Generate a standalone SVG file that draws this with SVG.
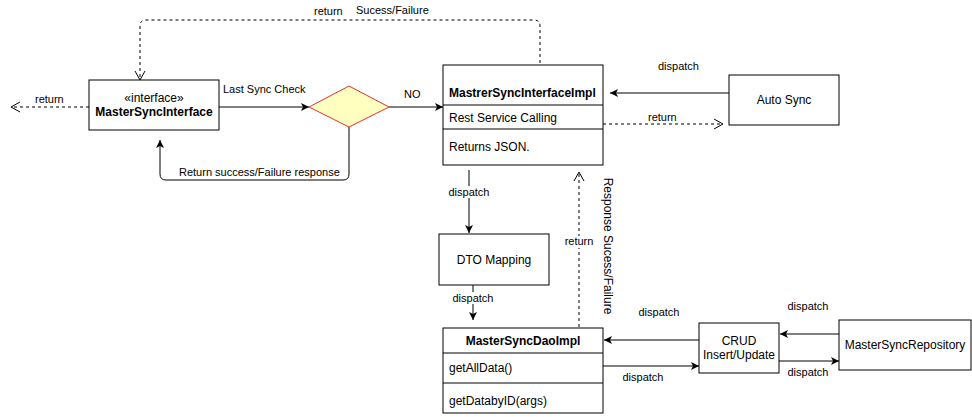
<svg xmlns="http://www.w3.org/2000/svg" width="972" height="417" viewBox="0 0 972 417">
<defs>
<marker id="filled" markerWidth="10" markerHeight="10" refX="9" refY="5" orient="auto" markerUnits="userSpaceOnUse"><path d="M1,1 L9,5 L1,9 L3,5 Z" fill="#000"/></marker>
<marker id="open" markerWidth="12" markerHeight="12" refX="11" refY="6" orient="auto" markerUnits="userSpaceOnUse"><path d="M2,1 L11,6 L2,11" fill="none" stroke="#000" stroke-width="1"/></marker>
</defs>
<style>
text{font-family:"Liberation Sans",Arial,sans-serif;fill:#000}
.n{font-size:12px}
.b{font-weight:bold}
.l{font-size:11px}
.box{fill:#fff;stroke:#000;stroke-width:1}
.e{fill:none;stroke:#000;stroke-width:1}
.d{stroke-dasharray:3 3}
.lb{fill:#fff}
</style>
<rect width="972" height="417" fill="#fff"/>
<g id="connectors">
<path class="e d" d="M540,63 V26 Q540,20 534,20 H146 Q140,20 140,26 V80" marker-end="url(#open)"/>
<path class="e d" d="M89,107 H11" marker-end="url(#open)"/>
<path class="e" d="M219,107 H309" marker-end="url(#filled)"/>
<path class="e" d="M349,127 V174 Q349,180 343,180 H166 Q160,180 160,174 V140" marker-end="url(#filled)"/>
<path class="e" d="M389,107 H443" marker-end="url(#filled)"/>
<path class="e" d="M729,93 H610" marker-end="url(#filled)"/>
<path class="e d" d="M603,124 H723" marker-end="url(#open)"/>
<path class="e" d="M469,170 V233" marker-end="url(#filled)"/>
<path class="e d" d="M579,327 V172" marker-end="url(#open)"/>
<path class="e" d="M473,285 V320" marker-end="url(#filled)"/>
<path class="e" d="M699,340 H604" marker-end="url(#filled)"/>
<path class="e" d="M603,366 H699" marker-end="url(#filled)"/>
<path class="e" d="M839,334 H780" marker-end="url(#filled)"/>
<path class="e" d="M779,361 H839" marker-end="url(#filled)"/>
<rect class="lb" x="321" y="4" width="25" height="12"/>
<text class="l" x="314" y="15">return</text>
<text class="l" x="356" y="14">Sucess/Failure</text>
<rect class="lb" x="32" y="93" width="36" height="12"/>
<text class="l" x="35" y="103">return</text>
<text class="l" x="223" y="93">Last Sync Check</text>
<rect class="lb" x="177" y="166" width="166" height="12"/>
<text class="l" x="179" y="176">Return success/Failure response</text>
<text class="l" x="404" y="98">NO</text>
<text class="l" x="658" y="70">dispatch</text>
<text class="l" x="648" y="121">return</text>
<rect class="lb" x="448" y="186" width="42" height="12"/>
<text class="l" x="469" y="196" text-anchor="middle">dispatch</text>
<rect class="lb" x="562" y="236" width="34" height="12"/>
<text class="l" x="579" y="245" text-anchor="middle">return</text>
<text class="n" x="600" y="246" text-anchor="middle" transform="rotate(90 600 246)" dy="-4">Response Sucess/Failure</text>
<rect class="lb" x="452" y="292" width="42" height="12"/>
<text class="l" x="473" y="302" text-anchor="middle">dispatch</text>
<text class="l" x="659" y="316" text-anchor="middle">dispatch</text>
<text class="l" x="643" y="381" text-anchor="middle">dispatch</text>
<text class="l" x="808" y="310" text-anchor="middle">dispatch</text>
<text class="l" x="808" y="376" text-anchor="middle">dispatch</text>
</g>
<g id="masterSyncInterface">
<rect class="box" x="89" y="80" width="130" height="50"/>
<text class="n" x="154" y="102" text-anchor="middle">«interface»</text>
<text class="n b" x="154" y="116" text-anchor="middle">MasterSyncInterface</text>
</g>
<g id="decision">
<path d="M349,86 L389,107 L349,127 L309,107 Z" fill="#ffffc0" stroke="#e03030" stroke-width="1"/>
</g>
<g id="interfaceImpl">
<rect class="box" x="443" y="65" width="160" height="100"/>
<line class="e" x1="443" y1="105" x2="603" y2="105"/>
<line class="e" x1="443" y1="129" x2="603" y2="129"/>
<text class="n b" x="449" y="97">MastrerSyncInterfaceImpl</text>
<text class="n" x="449" y="122">Rest Service Calling</text>
<text class="n" x="449" y="151">Returns JSON.</text>
</g>
<g id="autoSync">
<rect class="box" x="729" y="75" width="110" height="50"/>
<text class="n" x="784" y="104" text-anchor="middle">Auto Sync</text>
</g>
<g id="dtoMapping">
<rect class="box" x="439" y="234" width="110" height="51"/>
<text class="n" x="494" y="264" text-anchor="middle">DTO Mapping</text>
</g>
<g id="daoImpl">
<rect class="box" x="443" y="328" width="160" height="85"/>
<line class="e" x1="443" y1="353" x2="603" y2="353"/>
<line class="e" x1="443" y1="383" x2="603" y2="383"/>
<text class="n b" x="523" y="345" text-anchor="middle">MasterSyncDaoImpl</text>
<text class="n" x="449" y="372">getAllData()</text>
<text class="n" x="449" y="405">getDatabyID(args)</text>
</g>
<g id="crud">
<rect class="box" x="699" y="323" width="80" height="50"/>
<text class="n" x="739" y="345" text-anchor="middle">CRUD</text>
<text class="n" x="739" y="359" text-anchor="middle">Insert/Update</text>
</g>
<g id="repository">
<rect class="box" x="839" y="320" width="132" height="50"/>
<text class="n" x="905" y="349" text-anchor="middle">MasterSyncRepository</text>
</g>
</svg>
